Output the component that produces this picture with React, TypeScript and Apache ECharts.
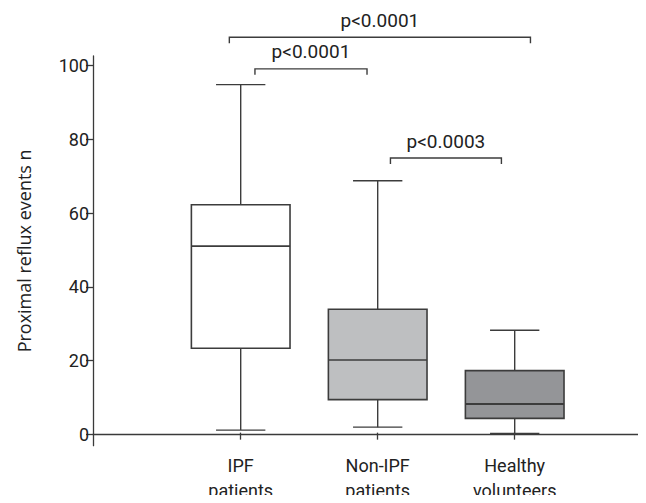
import React, { useEffect, useRef } from "react";
import * as echarts from "echarts";

// ---- data ----
const categories = ["IPF\npatients", "Non-IPF\npatients", "Healthy\nvolunteers"];
const whiskerMin = [0.7, 1.5, -0.2];
const quartile1 = [23, 9, 3.9];
const medians = [50.8, 19.8, 7.8];
const quartile3 = [62.1, 33.6, 16.9];
const whiskerMax = [94.8, 68.6, 27.9];
const yTickValues = [0, 20, 40, 60, 80, 100];

// significance brackets
const bracketLabels = ["p<0.0001", "p<0.0001", "p<0.0003"];
const bracketStartCat = [0, 0, 1];
const bracketStartShift = [-0.083, 0.104, 0.093];
const bracketEndCat = [2, 1, 2];
const bracketEndShift = [0.115, -0.078, -0.097];
const bracketLevel = [107.7, 99.1, 74.8];

const Y_MIN = -3.09;
const Y_MAX = 102.6;

const boxFills = ["#ffffff", "#bebfc1", "#949598"];
const FONT = "Roboto, 'Noto Sans', sans-serif";

export default function App() {
  const ref = useRef<HTMLDivElement>(null);

  useEffect(() => {
    if (!ref.current) return;
    const chart = echarts.init(ref.current, undefined, { renderer: "svg" });

    const boxData = categories.map((_, i) => [
      i,
      whiskerMin[i],
      quartile1[i],
      medians[i],
      quartile3[i],
      whiskerMax[i],
    ]);
    const bracketData = bracketLabels.map((_, i) => [
      bracketStartCat[i],
      bracketStartShift[i],
      bracketEndCat[i],
      bracketEndShift[i],
      bracketLevel[i],
      i,
    ]);

    const top = 56;
    const bottom = 57.3;

    const option: any = {
      animation: false,
      backgroundColor: "#ffffff",
      grid: [
        { left: 93, right: 2, top, bottom, containLabel: false },
        { left: 172.2, width: 411, top, bottom, containLabel: false },
      ],
      xAxis: [
        {
          gridIndex: 0,
          type: "value",
          min: 0,
          max: 1,
          axisLine: { show: true, lineStyle: { color: "#3a3a3a", width: 1.3 } },
          axisTick: { show: false },
          axisLabel: { show: false },
          splitLine: { show: false },
        },
        {
          gridIndex: 1,
          type: "category",
          data: categories,
          boundaryGap: true,
          axisLine: { show: false },
          axisTick: {
            show: true,
            alignWithLabel: true,
            length: 7,
            lineStyle: { color: "#3a3a3a", width: 1.3 },
          },
          axisLabel: {
            margin: 9,
            fontFamily: FONT,
            fontSize: 18,
            color: "#222",
            lineHeight: 25,
          },
          splitLine: { show: false },
        },
      ],
      yAxis: [
        {
          gridIndex: 0,
          type: "value",
          min: Y_MIN,
          max: Y_MAX,
          name: "Proximal reflux events n",
          nameLocation: "middle",
          nameGap: 60,
          nameTextStyle: { fontFamily: "'Open Sans', sans-serif", fontSize: 18, color: "#222" },
          axisLine: { show: true, lineStyle: { color: "#3a3a3a", width: 1.3 } },
          axisTick: {
            show: true,
            length: 7,
            customValues: yTickValues,
            lineStyle: { color: "#3a3a3a", width: 1.3 },
          },
          axisLabel: {
            margin: 4,
            customValues: yTickValues,
            fontFamily: FONT,
            fontSize: 18,
            color: "#222",
          },
          splitLine: { show: false },
        },
        {
          gridIndex: 1,
          type: "value",
          min: Y_MIN,
          max: Y_MAX,
          show: false,
          splitLine: { show: false },
        },
      ],
      series: [
        {
          type: "custom",
          xAxisIndex: 1,
          yAxisIndex: 1,
          clip: false,
          encode: { x: 0, y: [1, 2, 3, 4, 5] },
          data: boxData,
          renderItem: (params: any, api: any) => {
            const idx = api.value(0);
            const band = api.size([1, 0])[0];
            const bw = band * 0.72;
            const cw = bw / 2;
            const pMin = api.coord([idx, api.value(1)]);
            const pQ1 = api.coord([idx, api.value(2)]);
            const pMed = api.coord([idx, api.value(3)]);
            const pQ3 = api.coord([idx, api.value(4)]);
            const pMax = api.coord([idx, api.value(5)]);
            const cx = pMed[0];
            const stroke = "#3c3c3c";
            const lw = 1.4;
            return {
              type: "group",
              children: [
                {
                  type: "line",
                  shape: { x1: cx, y1: pMax[1], x2: cx, y2: pQ3[1] },
                  style: { stroke, lineWidth: lw },
                },
                {
                  type: "line",
                  shape: { x1: cx, y1: pQ1[1], x2: cx, y2: pMin[1] },
                  style: { stroke, lineWidth: lw },
                },
                {
                  type: "line",
                  shape: { x1: cx - cw / 2, y1: pMax[1], x2: cx + cw / 2, y2: pMax[1] },
                  style: { stroke, lineWidth: lw },
                },
                {
                  type: "line",
                  shape: { x1: cx - cw / 2, y1: pMin[1], x2: cx + cw / 2, y2: pMin[1] },
                  style: { stroke, lineWidth: lw },
                },
                {
                  type: "rect",
                  shape: { x: cx - bw / 2, y: pQ3[1], width: bw, height: pQ1[1] - pQ3[1] },
                  style: { fill: boxFills[params.dataIndex], stroke, lineWidth: 1.6 },
                },
                {
                  type: "line",
                  shape: { x1: cx - bw / 2, y1: pMed[1], x2: cx + bw / 2, y2: pMed[1] },
                  style: { stroke, lineWidth: params.dataIndex === 2 ? 2.2 : 1.6 },
                },
              ],
            };
          },
          z: 3,
        },
        {
          type: "custom",
          xAxisIndex: 1,
          yAxisIndex: 1,
          clip: false,
          encode: { x: 0, y: 4 },
          data: bracketData,
          renderItem: (params: any, api: any) => {
            const band = api.size([1, 0])[0];
            const level = api.value(4);
            const p1 = api.coord([api.value(0), level]);
            const p2 = api.coord([api.value(2), level]);
            const x1 = p1[0] + api.value(1) * band;
            const x2 = p2[0] + api.value(3) * band;
            const y = p1[1];
            const label = bracketLabels[api.value(5)];
            return {
              type: "group",
              children: [
                {
                  type: "polyline",
                  shape: {
                    points: [
                      [x1, y + 6],
                      [x1, y],
                      [x2, y],
                      [x2, y + 6],
                    ],
                  },
                  style: { stroke: "#3c3c3c", lineWidth: 1.4, fill: null },
                },
                {
                  type: "text",
                  style: {
                    text: label,
                    x: (x1 + x2) / 2,
                    y: y - 17,
                    align: "center",
                    verticalAlign: "middle",
                    fontFamily: FONT,
                    fontSize: 19,
                    fill: "#222",
                  },
                },
              ],
            };
          },
          z: 4,
        },
      ],
    };

    chart.setOption(option);
    return () => chart.dispose();
  }, []);

  return <div ref={ref} style={{ width: 646, height: 503, margin: -8 }} />;
}
